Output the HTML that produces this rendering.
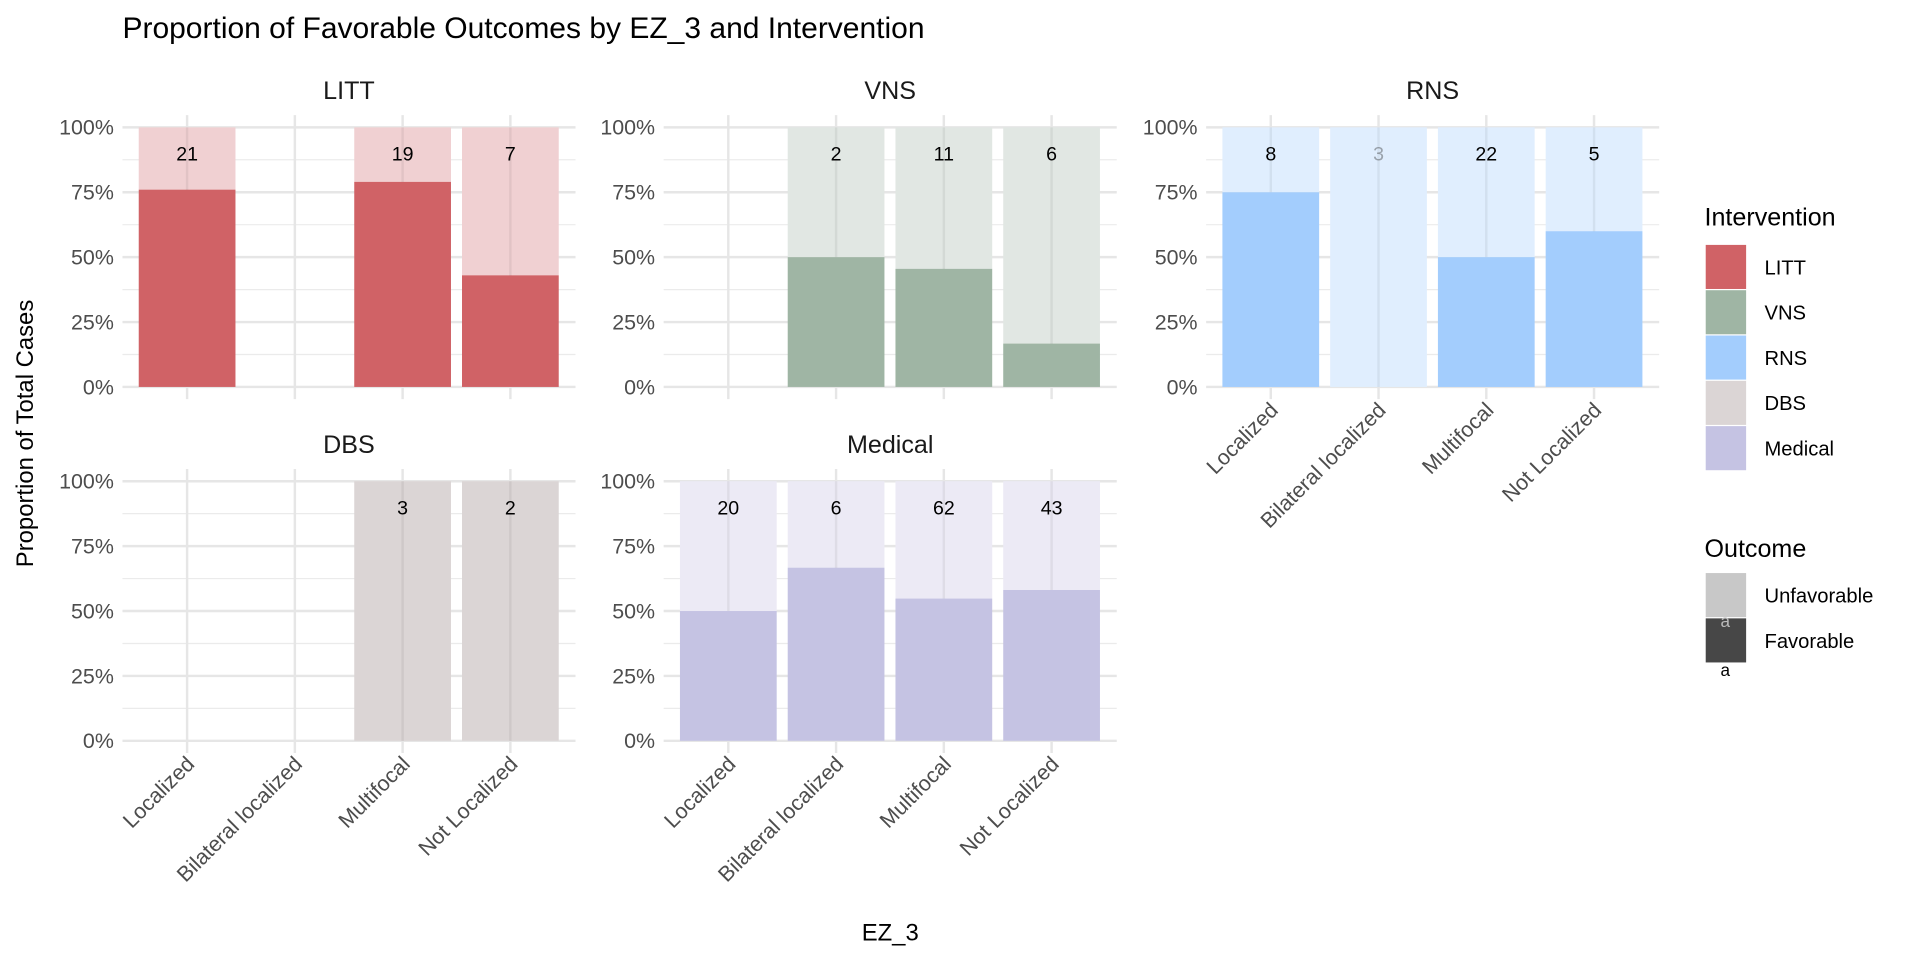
<!DOCTYPE html>
<html><head><meta charset="utf-8"><style>
html,body{margin:0;padding:0;background:#fff;}
svg{display:block;font-family:"Liberation Sans",Arial,sans-serif;}
</style></head><body>
<svg id="chart" width="1920" height="960" viewBox="0 0 1568 784" xmlns="http://www.w3.org/2000/svg">
<text x="100" y="31" font-size="24.5" fill="#000">Proportion of Favorable Outcomes by EZ_3 and Intervention</text>
<text transform="translate(27,354) rotate(-90)" text-anchor="middle" font-size="19.5" fill="#000">Proportion of Total Cases</text>
<text x="727" y="768" text-anchor="middle" font-size="19.5" fill="#000">EZ_3</text>
<g id="panels"></g>
<g id="legend">
<text x="1392" y="184" font-size="20.5" fill="#000">Intervention</text>
<text x="1392" y="455" font-size="20.5" fill="#000">Outcome</text>
</g>
</svg>
<script>
const categories = ["Localized","Bilateral localized","Multifocal","Not Localized"];
const interventions = ["LITT","VNS","RNS","DBS","Medical"];
// counts per intervention per category (null = no data)
const countsLITT = [21, null, 19, 7];
const countsVNS = [null, 2, 11, 6];
const countsRNS = [8, 3, 22, 5];
const countsDBS = [null, null, 3, 2];
const countsMedical = [20, 6, 62, 43];
// favorable proportion
const favLITT = [0.76, null, 0.79, 0.43];
const favVNS = [null, 0.50, 0.455, 0.167];
const favRNS = [0.75, 0.0, 0.50, 0.60];
const favDBS = [null, null, 0.0, 0.0];
const favMedical = [0.50, 0.667, 0.548, 0.581];
const yTicks = [0, 0.25, 0.5, 0.75, 1];
const yTickLabels = ["0%","25%","50%","75%","100%"];

const counts = [countsLITT,countsVNS,countsRNS,countsDBS,countsMedical];
const favs = [favLITT,favVNS,favRNS,favDBS,favMedical];
const favColor = ["#d06266","#9fb5a4","#a3cdfd","#dbd5d5","#c5c3e3"];
const unfavColor = ["#f0d0d2","#e1e7e3","#e0eefe","#dbd5d5","#eceaf5"];
const panelX = [100,542,985,100,542];
const panelTop = [104,104,104,393,393];
const showX = [false,false,true,true,true];
const PW = 370, PH = 212, STEP = 88, BW = 79;
const NS = "http://www.w3.org/2000/svg";
const root = document.getElementById('panels');
function mk(tag, attrs, parent){const e=document.createElementNS(NS,tag);for(const k in attrs)e.setAttribute(k,attrs[k]);(parent||root).appendChild(e);return e;}

interventions.forEach((name,p)=>{
  const x0 = panelX[p], yTop = panelTop[p], y0 = yTop+PH;
  const ys = v => y0 - v*PH;
  const xs = i => x0 + 0.6*STEP + i*STEP;
  const g = mk('g',{});
  
  
  const strip = mk('text',{x:x0+PW/2,y:yTop-23,'text-anchor':'middle','font-size':20.5,fill:'#1a1a1a'},g);
  strip.textContent = name;
  
  
  [0.125,0.375,0.625,0.875].forEach(v=>{
    const l = mk('line',{x1:x0,x2:x0+PW,y1:ys(v),y2:ys(v),stroke:'#ebebeb','stroke-width':1},g);
    
    
  });
  yTicks.forEach((v,i)=>{
    const l = mk('line',{x1:x0,x2:x0+PW,y1:ys(v),y2:ys(v),stroke:'#e6e6e6','stroke-width':2},g);
    
    
    const t = mk('text',{x:x0-7,y:ys(v)+6,'text-anchor':'end','font-size':17.5,fill:'#4d4d4d'},g);
    t.textContent = yTickLabels[i];
    
    
  });
  categories.forEach((c,i)=>{
    const l = mk('line',{x1:xs(i),x2:xs(i),y1:yTop-10,y2:y0+10,stroke:'#e6e6e6','stroke-width':2},g);
    
    
  });
  categories.forEach((c,i)=>{
    const n = counts[p][i], f = favs[p][i];
    if(n===null) return;
    const bx = xs(i)-BW/2;
    const u = mk('rect',{x:bx,y:ys(1),width:BW,height:ys(f)-ys(1),fill:unfavColor[p]},g);
    
    
    if(f>0){
      const b = mk('rect',{x:bx,y:ys(f),width:BW,height:y0-ys(f),fill:favColor[p]},g);
      
      
    }
    const t = mk('text',{x:xs(i),y:ys(0.9)+6,'text-anchor':'middle','font-size':16,fill:(f===0&&name==='RNS')?'#9aa3ad':'#000'},g);
    t.textContent = n;
    
    
  });
  categories.forEach((c,i)=>{
    if(counts[p][i]===null) return;
    const l = mk('line',{x1:xs(i),x2:xs(i),y1:ys(1),y2:ys(favs[p][i]),stroke:'#000','stroke-opacity':0.06,'stroke-width':2},g);
    
    
  });
  if(showX[p]){
    categories.forEach((c,i)=>{
      const t = mk('text',{transform:`translate(${xs(i)+7},${y0+20}) rotate(-45)`,'text-anchor':'end','font-size':17.5,fill:'#4d4d4d'},g);
      t.textContent = c;
      
      
    });
  }
});

const lg = document.getElementById('legend');
interventions.forEach((n,i)=>{
  const y = 200 + i*37;
  const r = mk('rect',{x:1393,y:y,width:33,height:36,fill:favColor[i]},lg);
  
  
  const t = mk('text',{x:1441,y:y+24,'font-size':16.5,fill:'#000'},lg);
  t.textContent = n;
  
  
});
const outcomes = ["Unfavorable","Favorable"];
const outColors = ["#c8c8c8","#474747"];
outcomes.forEach((n,i)=>{
  const y = 468 + i*37;
  const r = mk('rect',{x:1393,y:y,width:33,height:36,fill:outColors[i]},lg);
  
  
  const t = mk('text',{x:1441,y:y+24,'font-size':16.5,fill:'#000'},lg);
  t.textContent = n;
  
  
});
const a1 = mk('text',{x:1409,y:512,'text-anchor':'middle','font-size':14,fill:'#bbb'},lg);
a1.textContent = 'a';


const a2 = mk('text',{x:1409,y:552,'text-anchor':'middle','font-size':14,fill:'#000'},lg);
a2.textContent = 'a';


</script>
</body></html>
